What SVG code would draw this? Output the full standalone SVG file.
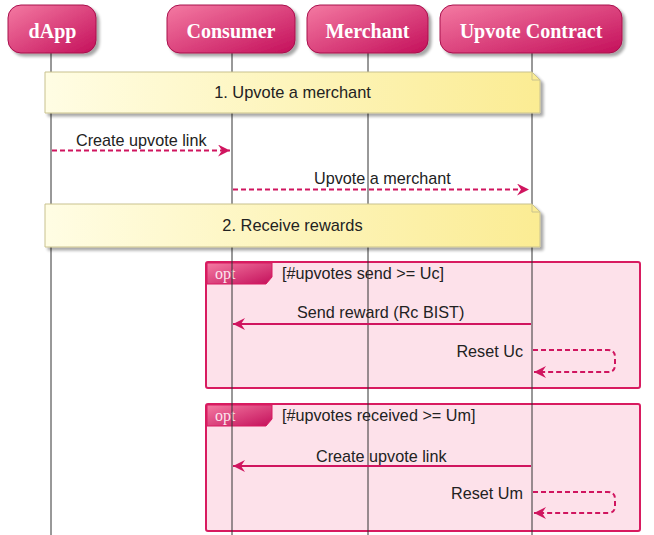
<svg xmlns="http://www.w3.org/2000/svg" width="654" height="535" viewBox="0 0 654 535">
<style>
.pbox{fill:url(#pg);stroke:#a8104c;stroke-width:1;filter:url(#sh)}
.ptxt{font-family:"Liberation Serif",serif;font-weight:bold;font-size:20px;fill:#fff;text-anchor:middle}
.life{stroke:#333;stroke-width:1}
.note{fill:url(#ng);stroke:#c9c28e;stroke-width:1;filter:url(#sh)}
.fold{fill:none;stroke:#c9c28e;stroke-width:1}
.ntxt{font-family:"Liberation Sans",Arial,sans-serif;font-size:16.4px;fill:#222;text-anchor:middle}
.msg{font-family:"Liberation Sans",Arial,sans-serif;font-size:16.2px;fill:#222}
.end{text-anchor:end}
.grp{fill:#fde1ea;stroke:#d81b60;stroke-width:2}
.tab{fill:url(#pg);stroke:#d81b60;stroke-width:1}
.otxt{font-family:"Liberation Serif",serif;font-size:16px;fill:#fbe3ec}
.a{stroke:#d0155f;stroke-width:2;fill:none}
.d{stroke-dasharray:5,3}
</style>
<defs>
<linearGradient id="pg" x1="0" y1="0" x2="1" y2="1">
<stop offset="0" stop-color="#f47aa2"/>
<stop offset="1" stop-color="#c4105b"/>
</linearGradient>
<linearGradient id="ng" x1="0" y1="0" x2="1" y2="0">
<stop offset="0" stop-color="#fffde4"/>
<stop offset="1" stop-color="#fbec93"/>
</linearGradient>
<filter id="sh" x="-10%" y="-20%" width="130%" height="150%">
<feGaussianBlur in="SourceAlpha" stdDeviation="1.5"/>
<feOffset dx="2.5" dy="2.5" result="b"/>
<feComponentTransfer><feFuncA type="linear" slope="0.35"/></feComponentTransfer>
<feMerge><feMergeNode/><feMergeNode in="SourceGraphic"/></feMerge>
</filter>
<marker id="ah" viewBox="0 0 12 12" refX="12" refY="6" markerWidth="12" markerHeight="12" orient="auto" markerUnits="userSpaceOnUse">
<path d="M0,0 L12,6 L0,12 L4,6 Z" fill="#d0155f"/>
</marker>
</defs>
<rect width="654" height="535" fill="#fff"/>

<g id="opt1">
<rect class="grp" x="206" y="262" width="434" height="126" rx="2"/>
<path class="tab" d="M207,263 H272 V277 L266,284 H207 Z"/>
<text class="otxt" x="215" y="279">opt</text>
<text class="msg" x="282" y="279">[#upvotes send &gt;= Uc]</text>
</g>
<g id="opt2">
<rect class="grp" x="206" y="404" width="434" height="127" rx="2"/>
<path class="tab" d="M207,405 H272 V419 L266,426 H207 Z"/>
<text class="otxt" x="215" y="421">opt</text>
<text class="msg" x="282" y="421">[#upvotes received &gt;= Um]</text>
</g>

<g id="lifelines">
<line class="life" x1="51" y1="53" x2="51" y2="535"/>
<line class="life" x1="232" y1="53" x2="232" y2="535"/>
<line class="life" x1="368" y1="53" x2="368" y2="535"/>
<line class="life" x1="532" y1="53" x2="532" y2="535"/>
</g>

<g id="dApp">
<rect class="pbox" x="8" y="5" width="88" height="48" rx="13"/>
<text class="ptxt" x="52.5" y="38">dApp</text>
</g>
<g id="Consumer">
<rect class="pbox" x="167" y="5" width="128" height="48" rx="13"/>
<text class="ptxt" x="231" y="38">Consumer</text>
</g>
<g id="Merchant">
<rect class="pbox" x="307" y="5" width="121" height="48" rx="13"/>
<text class="ptxt" x="367.5" y="38">Merchant</text>
</g>
<g id="UpvoteContract">
<rect class="pbox" x="440" y="5" width="182" height="48" rx="13"/>
<text class="ptxt" x="531" y="38">Upvote Contract</text>
</g>

<g id="note1">
<path class="note" d="M45,72 H532 L540,80 V113 H45 Z"/>
<path class="fold" d="M532,72 V80 H540"/>
<text class="ntxt" x="292.5" y="98">1. Upvote a merchant</text>
</g>
<g id="note2">
<path class="note" d="M45,204 H532 L540,212 V247 H45 Z"/>
<path class="fold" d="M532,204 V212 H540"/>
<text class="ntxt" x="292.5" y="231">2. Receive rewards</text>
</g>

<g id="connectors">
<line class="a d" x1="52" y1="150.5" x2="230" y2="150.5" marker-end="url(#ah)"/>
<line class="a d" x1="233" y1="189.5" x2="529" y2="189.5" marker-end="url(#ah)"/>
<line class="a" x1="531" y1="324" x2="233" y2="324" marker-end="url(#ah)"/>
<path class="a d" d="M533,350 H608 Q615,350 615,357 V365 Q615,372 608,372 H534" marker-end="url(#ah)"/>
<line class="a" x1="531" y1="466" x2="233" y2="466" marker-end="url(#ah)"/>
<path class="a d" d="M533,492 H608 Q615,492 615,499 V506 Q615,513 608,513 H534" marker-end="url(#ah)"/>
</g>

<g id="labels">
<text class="msg" x="76" y="146">Create upvote link</text>
<text class="msg" x="314" y="184">Upvote a merchant</text>
<text class="msg" x="297" y="318">Send reward (Rc BIST)</text>
<text class="msg end" x="523" y="357">Reset Uc</text>
<text class="msg" x="316" y="462">Create upvote link</text>
<text class="msg end" x="523" y="499">Reset Um</text>
</g>
</svg>
